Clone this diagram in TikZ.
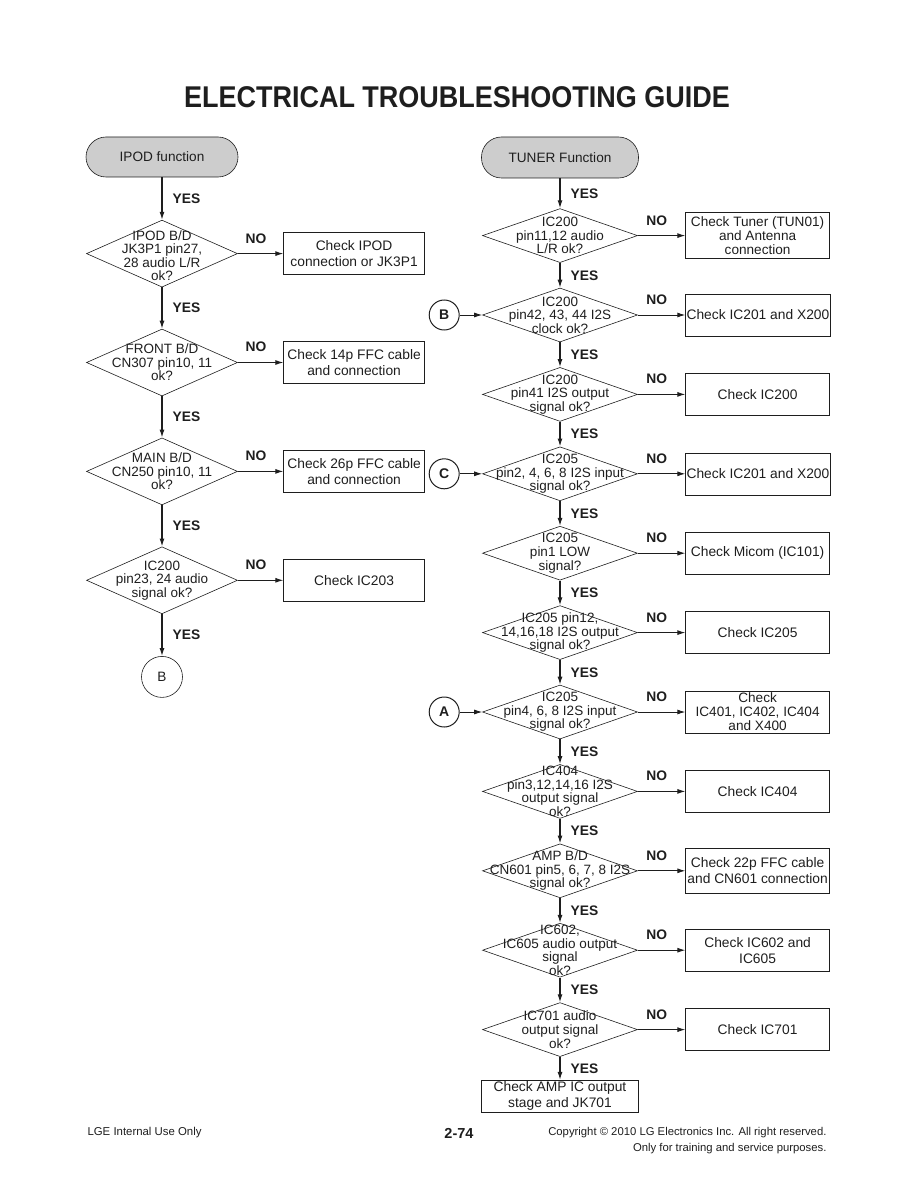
\documentclass[tikz,border=0pt]{standalone}
\usepackage{fontspec}
\setmainfont{Liberation Sans}
\usepackage{graphicx}
\usepackage{tikz}
\usetikzlibrary{shapes.geometric,arrows.meta,positioning}
\definecolor{inkgray}{RGB}{30,30,30}
\definecolor{screengray}{RGB}{205,205,205}

\begin{document}
\begin{tikzpicture}[x=1pt, y=-1pt, color=inkgray,
  startbox/.style={draw, rounded corners=20pt, fill=screengray, line width=0.6pt,
                   minimum width=152pt, minimum height=40pt,
                   font=\fontsize{13.6}{15}\selectfont},
  decision/.style={diamond, draw, line width=0.6pt, inner sep=0pt,
                   minimum width=151pt, minimum height=67pt},
  rdecision/.style={decision, minimum width=155pt, minimum height=54pt},
  dtext/.style={align=center, inner sep=0pt, font=\fontsize{13.5}{13.6}\selectfont},
  checkbox/.style={draw, line width=0.6pt, minimum width=141pt, minimum height=42pt,
                   inner sep=1pt, align=center, font=\fontsize{13.8}{16}\selectfont},
  rcheckbox/.style={checkbox, minimum width=144pt},
  tallbox/.style={rcheckbox, font=\fontsize{13.6}{14}\selectfont},
  linkcircle/.style={circle, draw, line width=0.6pt, minimum size=41pt, inner sep=0pt,
                     font=\fontsize{13.6}{14}\selectfont},
  jumpcircle/.style={circle, draw, line width=1pt, minimum size=30pt, inner sep=0pt,
                     font=\bfseries\fontsize{14}{14}\selectfont},
  arr/.style={-{Latex[length=8pt,width=5pt]}, line width=1.2pt},
  narr/.style={-{Latex[length=8pt,width=5pt]}, line width=0.9pt},
  yeslbl/.style={right=10pt, inner sep=0pt, font=\bfseries\fontsize{13.8}{14}\selectfont},
  nolbl/.style={pos=0.4, above=10pt, inner sep=0pt, font=\bfseries\fontsize{13.8}{14}\selectfont}
]
\useasboundingbox (0,0) rectangle (914,1190);

\node[font=\bfseries\fontsize{30}{30}\selectfont] (title) at (457,97)
  {\scalebox{0.9}[1]{ELECTRICAL TROUBLESHOOTING GUIDE}};

% IPOD column
\node[startbox] (ipod) at (162,157) {IPOD function};
\node[decision, below=42.5pt of ipod,
  label={[dtext, yshift=-2pt]center:{IPOD B/D\\JK3P1 pin27,\\28 audio L/R\\ok?}}] (ipodbd) {};
\node[decision, below=41.3pt of ipodbd,
  label={[dtext]center:{FRONT B/D\\CN307 pin10, 11\\ok?}}] (frontbd) {};
\node[decision, below=41.3pt of frontbd,
  label={[dtext]center:{MAIN B/D\\CN250 pin10, 11\\ok?}}] (mainbd) {};
\node[decision, below=41.3pt of mainbd,
  label={[dtext]center:{IC200\\pin23, 24 audio\\signal ok?}}] (icaudio) {};
\node[linkcircle, below=42pt of icaudio] (linkb) {B};

\node[checkbox, right=45.5pt of ipodbd]  (chkipod)  {Check IPOD\\connection or JK3P1};
\node[checkbox, right=45.5pt of frontbd] (chkfront) {Check 14p FFC cable\\and connection};
\node[checkbox, right=45.5pt of mainbd]  (chkmain)  {Check 26p FFC cable\\and connection};
\node[checkbox, right=45.5pt of icaudio] (chkic203) {Check IC203};

\draw[arr] (ipod) -- node[yeslbl] {YES} (ipodbd);
\draw[arr] (ipodbd) -- node[yeslbl] {YES} (frontbd);
\draw[arr] (frontbd) -- node[yeslbl] {YES} (mainbd);
\draw[arr] (mainbd) -- node[yeslbl] {YES} (icaudio);
\draw[arr] (icaudio) -- node[yeslbl] {YES} (linkb);

\draw[narr] (ipodbd) -- node[nolbl] {NO} (chkipod);
\draw[narr] (frontbd) -- node[nolbl] {NO} (chkfront);
\draw[narr] (mainbd) -- node[nolbl] {NO} (chkmain);
\draw[narr] (icaudio) -- node[nolbl] {NO} (chkic203);

% TUNER column
\node[startbox, minimum width=157pt, minimum height=41pt] (tuner) at (560,157.5) {TUNER Function};
\node[rdecision, below=30pt of tuner,
  label={[dtext]center:{IC200\\pin11,12 audio\\L/R ok?}}] (rtuner) {};
\node[rdecision, below=24.8pt of rtuner,
  label={[dtext]center:{IC200\\pin42, 43, 44 I2S\\clock ok?}}] (rclock) {};
\node[rdecision, below=24.8pt of rclock,
  label={[dtext]center:{IC200\\pin41 I2S output\\signal ok?}}] (rout200) {};
\node[rdecision, below=24.8pt of rout200,
  label={[dtext]center:{IC205\\pin2, 4, 6, 8 I2S input\\signal ok?}}] (rin205) {};
\node[rdecision, below=24.8pt of rin205,
  label={[dtext]center:{IC205\\pin1 LOW\\signal?}}] (rlow205) {};
\node[rdecision, below=24.8pt of rlow205,
  label={[dtext]center:{IC205 pin12,\\14,16,18 I2S output\\signal ok?}}] (rout205) {};
\node[rdecision, below=24.8pt of rout205,
  label={[dtext]center:{IC205\\pin4, 6, 8 I2S input\\signal ok?}}] (rin205b) {};
\node[rdecision, below=24.8pt of rin205b,
  label={[dtext]center:{IC404\\pin3,12,14,16 I2S\\output signal\\ok?}}] (rout404) {};
\node[rdecision, below=24.8pt of rout404,
  label={[dtext]center:{AMP B/D\\CN601 pin5, 6, 7, 8 I2S\\signal ok?}}] (ramp) {};
\node[rdecision, below=24.8pt of ramp,
  label={[dtext]center:{IC602,\\IC605 audio output\\signal\\ok?}}] (rout602) {};
\node[rdecision, below=24.8pt of rout602,
  label={[dtext]center:{IC701 audio\\output signal\\ok?}}] (rout701) {};
\node[checkbox, minimum width=157pt, minimum height=32pt, below=23pt of rout701]
  (chkamp) {Check AMP IC output\\stage and JK701};

\node[tallbox, minimum height=46pt, right=47.5pt of rtuner] (chktuner) {Check Tuner (TUN01)\\and Antenna\\connection};
\node[rcheckbox, right=47.5pt of rclock]  (chkx200a) {Check IC201 and X200};
\node[rcheckbox, right=47.5pt of rout200] (chkic200) {Check IC200};
\node[rcheckbox, right=47.5pt of rin205]  (chkx200b) {Check IC201 and X200};
\node[rcheckbox, right=47.5pt of rlow205] (chkmicom) {Check Micom (IC101)};
\node[rcheckbox, right=47.5pt of rout205] (chkic205) {Check IC205};
\node[tallbox, right=47.5pt of rin205b] (chkic40x) {Check\\IC401, IC402, IC404\\and X400};
\node[rcheckbox, right=47.5pt of rout404] (chkic404) {Check IC404};
\node[rcheckbox, minimum height=45pt, right=47.5pt of ramp] (chkcn601) {Check 22p FFC cable\\and CN601 connection};
\node[rcheckbox, right=47.5pt of rout602] (chkic602) {Check IC602 and\\IC605};
\node[rcheckbox, right=47.5pt of rout701] (chkic701) {Check IC701};

\node[jumpcircle, left=22.5pt of rclock]  (jumpb) {B};
\node[jumpcircle, left=22.5pt of rin205]  (jumpc) {C};
\node[jumpcircle, left=22.5pt of rin205b] (jumpa) {A};

\draw[arr] (tuner) -- node[yeslbl] {YES} (rtuner);
\draw[arr] (rtuner) -- node[yeslbl] {YES} (rclock);
\draw[arr] (rclock) -- node[yeslbl] {YES} (rout200);
\draw[arr] (rout200) -- node[yeslbl] {YES} (rin205);
\draw[arr] (rin205) -- node[yeslbl] {YES} (rlow205);
\draw[arr] (rlow205) -- node[yeslbl] {YES} (rout205);
\draw[arr] (rout205) -- node[yeslbl] {YES} (rin205b);
\draw[arr] (rin205b) -- node[yeslbl] {YES} (rout404);
\draw[arr] (rout404) -- node[yeslbl] {YES} (ramp);
\draw[arr] (ramp) -- node[yeslbl] {YES} (rout602);
\draw[arr] (rout602) -- node[yeslbl] {YES} (rout701);
\draw[arr] (rout701) -- node[yeslbl] {YES} (chkamp);

\draw[narr] (rtuner) -- node[nolbl] {NO} (chktuner);
\draw[narr] (rclock) -- node[nolbl] {NO} (chkx200a);
\draw[narr] (rout200) -- node[nolbl] {NO} (chkic200);
\draw[narr] (rin205) -- node[nolbl] {NO} (chkx200b);
\draw[narr] (rlow205) -- node[nolbl] {NO} (chkmicom);
\draw[narr] (rout205) -- node[nolbl] {NO} (chkic205);
\draw[narr] (rin205b) -- node[nolbl] {NO} (chkic40x);
\draw[narr] (rout404) -- node[nolbl] {NO} (chkic404);
\draw[narr] (ramp) -- node[nolbl] {NO} (chkcn601);
\draw[narr] (rout602) -- node[nolbl] {NO} (chkic602);
\draw[narr] (rout701) -- node[nolbl] {NO} (chkic701);

\draw[narr] (jumpb) -- (rclock);
\draw[narr] (jumpc) -- (rin205);
\draw[narr] (jumpa) -- (rin205b);

% page footer
\node[anchor=base west, font=\fontsize{11.4}{12}\selectfont] (internal) at (84,1135.5) {LGE Internal Use Only};
\node[anchor=base, font=\bfseries\fontsize{14.5}{15}\selectfont] (pageno) at (459,1138) {2-74};
\node[anchor=base east, font=\fontsize{11.3}{12}\selectfont] (copy1) at (830,1135.5) {Copyright \textcopyright{} 2010 LG Electronics Inc. All right reserved.};
\node[anchor=base east, font=\fontsize{11.3}{12}\selectfont] (copy2) at (830,1151) {Only for training and service purposes.};
\end{tikzpicture}
\end{document}
